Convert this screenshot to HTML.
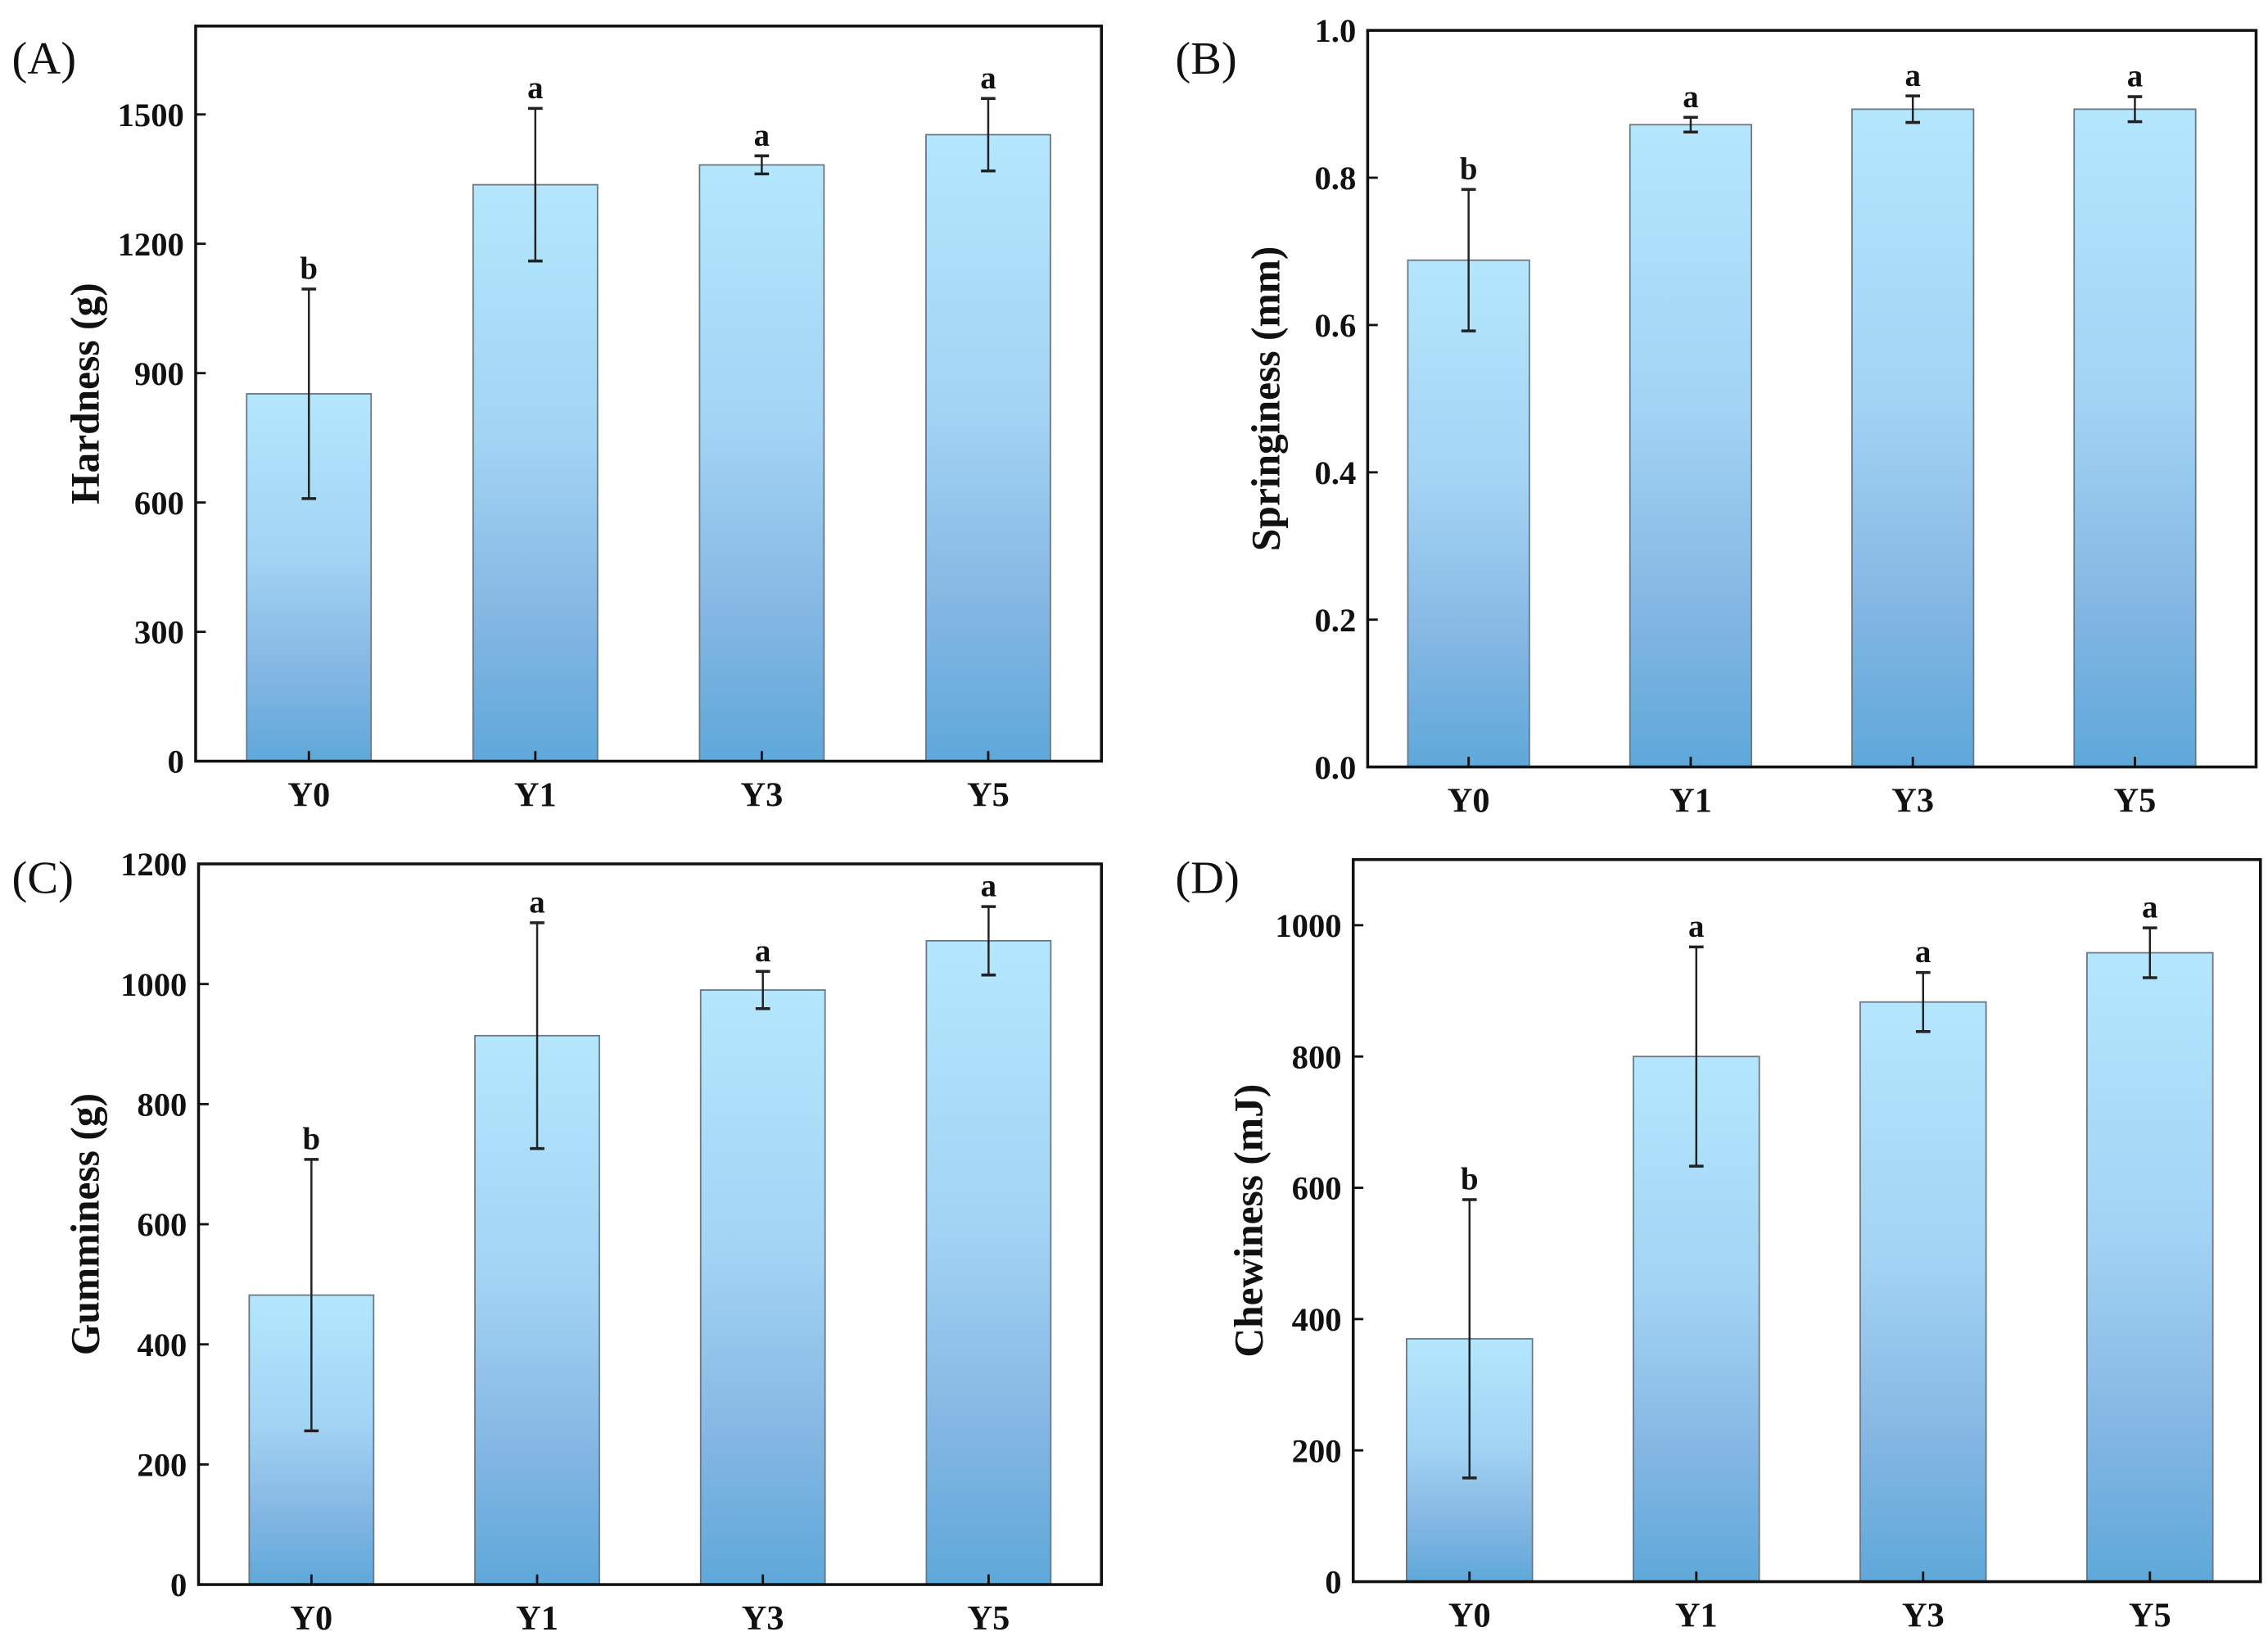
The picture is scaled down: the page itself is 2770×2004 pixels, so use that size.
<!DOCTYPE html>
<html><head><meta charset="utf-8">
<style>
html,body{margin:0;padding:0;background:#fff;}
svg{display:block;}
text{font-family:"Liberation Serif",serif;}
</style></head>
<body>
<svg id="fig" width="2770" height="2004" viewBox="0 0 1567 1134" xmlns="http://www.w3.org/2000/svg">
<defs>
<linearGradient id="barGrad" x1="0" y1="0" x2="0" y2="1">
<stop offset="0" stop-color="#b4e7fe"/>
<stop offset="0.45" stop-color="#a2d3f4"/>
<stop offset="0.75" stop-color="#84b7e3"/>
<stop offset="1" stop-color="#5ea8da"/>
</linearGradient>
</defs>
</svg>
<script>
const categories = ["Y0","Y1","Y3","Y5"];
// Panel A - Hardness
const hardnessValues = [852, 1337, 1383, 1453];
const hardnessErrors = [243, 177, 21, 84];
const hardnessLetters = ["b","a","a","a"];
const hardnessTicks = [0,300,600,900,1200,1500];
// Panel B - Springiness
const springValues = [0.688, 0.872, 0.893, 0.893];
const springErrors = [0.096, 0.010, 0.018, 0.017];
const springLetters = ["b","a","a","a"];
const springTicks = ["0.0","0.2","0.4","0.6","0.8","1.0"];
// Panel C - Gumminess
const gumValues = [482, 914, 990, 1072];
const gumErrors = [226, 188, 31, 57];
const gumLetters = ["b","a","a","a"];
const gumTicks = [0,200,400,600,800,1000,1200];
// Panel D - Chewiness
const chewValues = [370, 800, 883, 958];
const chewErrors = [212, 167, 45, 38];
const chewLetters = ["b","a","a","a"];
const chewTicks = [0,200,400,600,800,1000];

const NS = "http://www.w3.org/2000/svg";
const svg = document.getElementById('fig');
function mk(tag, attrs, parent){
  const e = document.createElementNS(NS, tag);
  for (const k in attrs) e.setAttribute(k, attrs[k]);
  (parent||svg).appendChild(e);
  return e;
}

function panel(cfg){
  const g = mk('g', {});
  
  
  const {x0,x1,y0,y1,max} = cfg;
  const ys = v => y1 - (v/max)*(y1-y0);
  const band = (x1-x0)/4;
  const xs = i => x0 + band*(i+0.5) + cfg.shift;
  const bw = cfg.bw;
  cfg.values.forEach((v,i)=>{
    const r = mk('rect', {x: xs(i)-bw/2, y: ys(v), width: bw, height: ys(0)-ys(v), fill:'url(#barGrad)', stroke:'#6a7680', 'stroke-width':1}, g);
    
    
  });
  cfg.values.forEach((v,i)=>{
    const e = cfg.errors[i];
    const cx = xs(i);
    const eg = mk('g', {stroke:'#222', 'stroke-width':1.4}, g);
    
    
    mk('line', {x1:cx, x2:cx, y1:ys(v+e), y2:ys(v-e)}, eg);
    mk('line', {x1:cx-5, x2:cx+5, y1:ys(v+e), y2:ys(v+e), 'stroke-width':2}, eg);
    mk('line', {x1:cx-5, x2:cx+5, y1:ys(v-e), y2:ys(v-e), 'stroke-width':2}, eg);
    const t = mk('text', {x:cx, y:ys(v+e)-7, 'text-anchor':'middle', 'font-size':22, 'font-weight':'bold', fill:'#111'}, g);
    t.textContent = cfg.letters[i];
    
    
  });
  const fr = mk('rect', {x:x0, y:y0, width:x1-x0, height:y1-y0, fill:'none', stroke:'#111', 'stroke-width':2}, g);
  
  
  cfg.ticks.forEach(t=>{
    const v = parseFloat(t);
    const y = ys(v);
    mk('line', {x1:x0, x2:x0+7, y1:y, y2:y, stroke:'#111', 'stroke-width':1.6}, g);
    const tl = mk('text', {x:x0-8, y:y+8, 'text-anchor':'end', 'font-size':23, 'font-weight':'bold', fill:'#111'}, g);
    tl.textContent = t;
    
    
  });
  categories.forEach((c,i)=>{
    const cx = xs(i);
    mk('line', {x1:cx, x2:cx, y1:y1, y2:y1-7, stroke:'#111', 'stroke-width':1.6}, g);
    const xl = mk('text', {x:cx, y:y1+31, 'text-anchor':'middle', 'font-size':24, 'font-weight':'bold', fill:'#111'}, g);
    xl.textContent = c;
    
    
  });
  const cy = (y0+y1)/2;
  const yt = mk('text', {x:cfg.titleX, y:cy, transform:'rotate(-90 '+cfg.titleX+' '+cy+')', 'text-anchor':'middle', 'font-size':28, 'font-weight':'bold', fill:'#111'}, g);
  yt.textContent = cfg.title;
  
  
  const pl = mk('text', {x:cfg.lx, y:cfg.ly, 'font-size':32, fill:'#111'}, g);
  pl.textContent = '(' + cfg.id + ')';
  
  
}

panel({id:'A', x0:135, x1:761, y0:18, y1:526, max:1705, shift:0, bw:86,
  values:hardnessValues, errors:hardnessErrors, letters:hardnessLetters, ticks:hardnessTicks.map(String),
  title:'Hardness (g)', titleX:68, lx:8, ly:51});
panel({id:'B', x0:945, x1:1559, y0:21, y1:530, max:1.0, shift:-7, bw:84,
  values:springValues, errors:springErrors, letters:springLetters, ticks:springTicks,
  title:'Springiness (mm)', titleX:884, lx:812, ly:51});
panel({id:'C', x0:137, x1:761, y0:597, y1:1095, max:1200, shift:0, bw:86,
  values:gumValues, errors:gumErrors, letters:gumLetters, ticks:gumTicks.map(String),
  title:'Gumminess (g)', titleX:68, lx:8, ly:617});
panel({id:'D', x0:935, x1:1562, y0:594, y1:1093, max:1100, shift:2, bw:87,
  values:chewValues, errors:chewErrors, letters:chewLetters, ticks:chewTicks.map(String),
  title:'Chewiness (mJ)', titleX:872, lx:812, ly:617});
</script>
</body></html>
